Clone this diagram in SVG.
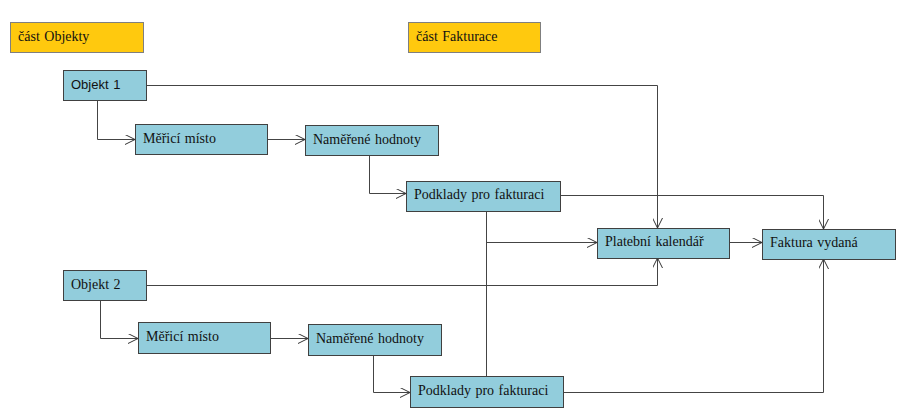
<svg xmlns="http://www.w3.org/2000/svg" width="900" height="412" viewBox="0 0 900 412">
<defs>
<marker id="ah" viewBox="0 0 10 10" refX="10" refY="5" markerWidth="10" markerHeight="10" markerUnits="userSpaceOnUse" orient="auto">
<path d="M0,0 L10,5 L0,10" fill="none" stroke="#333" stroke-width="1"/>
</marker>
<style>
.n{fill:#92CDDC;stroke:#404040;stroke-width:1}
.s{fill:#FFC90E;stroke:#7f7f7f;stroke-width:1}
text{font-family:"Liberation Serif","Times New Roman",serif;font-size:14px;fill:#111;word-spacing:1px}
.c path{fill:none;stroke:#444;stroke-width:1}
.a{marker-end:url(#ah)}
</style>
</defs>
<rect width="900" height="412" fill="#fff"/>
<g id="sec-objekty"><rect class="s" x="10.5" y="22.5" width="133" height="30"/><text x="18" y="41">část Objekty</text></g>
<g id="sec-fakturace"><rect class="s" x="408.5" y="22.5" width="132" height="30"/><text x="416" y="41">část Fakturace</text></g>
<g class="c" id="connectors">
<path class="a" d="M146.5,85.5 H657.5 V228"/>
<path class="a" d="M97.5,100 V139.5 H135"/>
<path class="a" d="M267,139.5 H305"/>
<path class="a" d="M369.5,156 V193.5 H406"/>
<path class="a" d="M560,195.5 H823.5 V229"/>
<path d="M486.5,211 V376"/>
<path class="a" d="M486.5,242.5 H597"/>
<path class="a" d="M729,242.5 H762"/>
<path class="a" d="M146.5,285.5 H657.5 V258"/>
<path class="a" d="M100.5,300 V338.5 H138"/>
<path class="a" d="M270,338.5 H308"/>
<path class="a" d="M373.5,355 V392.5 H410"/>
<path class="a" d="M563,392.5 H823.5 V259"/>
</g>
<g id="objekt1"><rect class="n" x="63.5" y="70.5" width="83" height="30"/><text x="71" y="89" style="font-family:'Liberation Sans',Arial,sans-serif;font-size:13px">Objekt 1</text></g>
<g id="meri1"><rect class="n" x="135.5" y="124.5" width="132" height="30"/><text x="143" y="143">Měřicí místo</text></g>
<g id="nam1"><rect class="n" x="305.5" y="125.5" width="133" height="30"/><text x="313" y="144">Naměřené hodnoty</text></g>
<g id="pod1"><rect class="n" x="406.5" y="181.5" width="154" height="30"/><text x="414" y="199">Podklady pro fakturaci</text></g>
<g id="platebni"><rect class="n" x="597.5" y="228.5" width="132" height="30"/><text x="605" y="246">Platební kalendář</text></g>
<g id="faktura"><rect class="n" x="762.5" y="229.5" width="133" height="30"/><text x="770" y="247">Faktura vydaná</text></g>
<g id="objekt2"><rect class="n" x="63.5" y="270.5" width="83" height="30"/><text x="71" y="289">Objekt 2</text></g>
<g id="meri2"><rect class="n" x="138.5" y="322.5" width="132" height="31"/><text x="146" y="341">Měřicí místo</text></g>
<g id="nam2"><rect class="n" x="308.5" y="324.5" width="133" height="31"/><text x="316" y="343">Naměřené hodnoty</text></g>
<g id="pod2"><rect class="n" x="410.5" y="376.5" width="153" height="31"/><text x="418" y="395">Podklady pro fakturaci</text></g>
</svg>
